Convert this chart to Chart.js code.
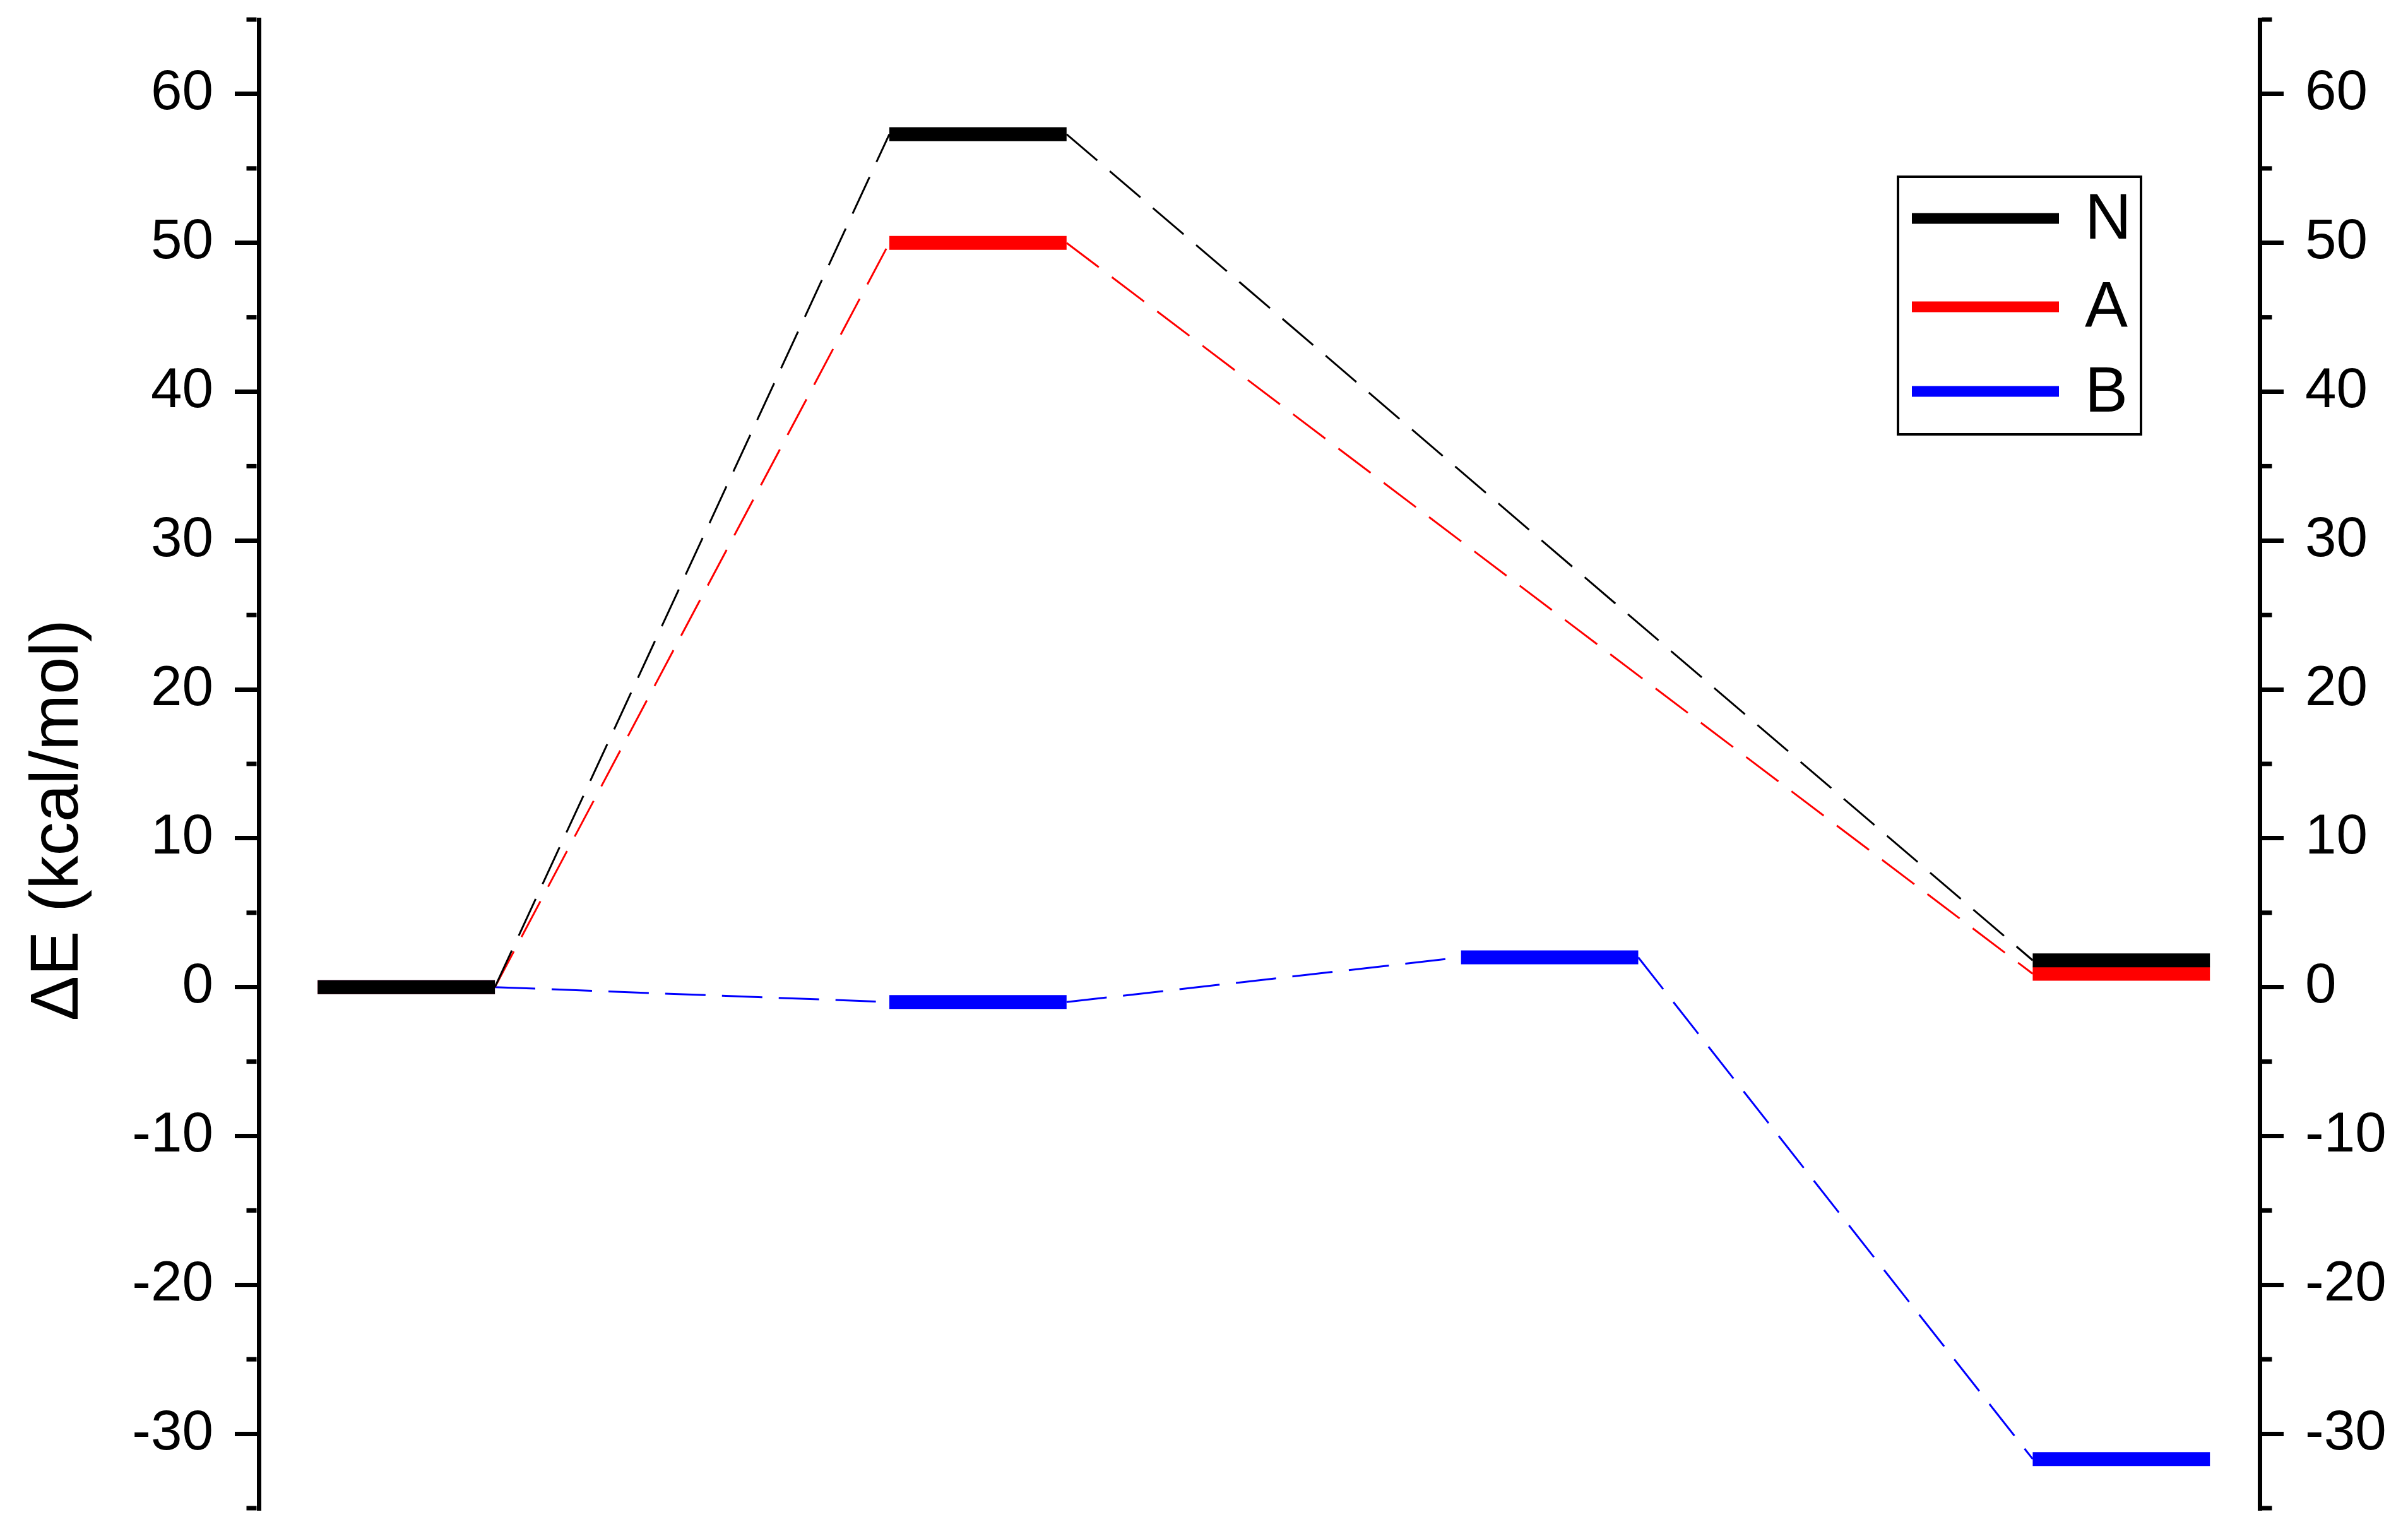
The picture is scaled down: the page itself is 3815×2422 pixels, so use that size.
<!DOCTYPE html>
<html>
<head>
<meta charset="utf-8">
<title>Energy profile</title>
<script src="https://cdn.jsdelivr.net/npm/chart.js@4.4.1/dist/chart.umd.min.js"></script>
<style>
  html, body { margin: 0; padding: 0; background: #fff; }
  #wrap { width: 3815px; height: 2422px; }
</style>
</head>
<body>
<div id="wrap"><canvas id="profile"></canvas></div>
<script>
// reaction coordinate: one slot per stationary point
const stages = [0, 1, 2, 3];
const seriesNames = ['N', 'A', 'B'];
const seriesColors = ['#000000', '#ff0000', '#0000ff'];
// relative energies, kcal/mol (null = no level at that stage)
const energyN = [0, 57.3, null, 1.8];
const energyA = [0, 50.0, null, 0.9];
const energyB = [0, -1.0, 2.0, -31.7];
const yTicks = [-30, -20, -10, 0, 10, 20, 30, 40, 50, 60];
const yMinorTicks = [-35, -25, -15, -5, 5, 15, 25, 35, 45, 55, 65];

const FONT = "'Liberation Sans', Arial, sans-serif";
const levelHalf = 0.155;

// every level becomes a start and an end point; even segments are the
// levels themselves, odd segments are the dashed connectors between them
function levelPoints(energies) {
    const pts = [];
    energies.forEach((e, i) => {
        if (e === null) return;
        pts.push({ x: stages[i] - levelHalf, y: e });
        pts.push({ x: stages[i] + levelHalf, y: e });
    });
    return pts;
}

const allEnergies = [energyN, energyA, energyB];

const datasets = seriesNames.map((name, i) => ({
    label: name,
    data: levelPoints(allEnergies[i]),
    borderColor: seriesColors[i],
    backgroundColor: seriesColors[i],
    borderWidth: 3,
    pointRadius: 0,
    pointHoverRadius: 0,
    fill: false,
    tension: 0,
    segment: {
        borderWidth: ctx => (ctx.p0DataIndex % 2 === 0 ? 22 : 3),
        borderDash: ctx => (ctx.p0DataIndex % 2 === 0 ? [] : [64, 26])
    }
}));

function yAxis(position, width) {
    return {
        type: 'linear',
        position: position,
        min: -35,
        max: 65,
        afterBuildTicks: scale => {
            scale.ticks = yTicks.map(v => ({ value: v }));
        },
        afterFit: scale => {
            scale.width = width;
            scale.paddingTop = 0;
            scale.paddingBottom = 0;
        },
        border: { display: true, color: '#000', width: 7 },
        grid: {
            drawOnChartArea: false,
            drawTicks: true,
            tickLength: 38,
            tickWidth: 7,
            tickColor: '#000',
            lineWidth: 7
        },
        ticks: {
            color: '#000',
            padding: 34,
            font: { family: FONT, size: 89 },
            callback: v => String(v)
        }
    };
}

const leftAxis = yAxis('left', 410);
leftAxis.title = {
    display: true,
    text: 'ΔE (kcal/mol)      ',
    color: '#000',
    padding: 0,
    font: { family: FONT, size: 107, lineHeight: 1.75 }
};
const rightAxis = yAxis('right', 235);

// minor ticks and the framed legend, Origin style
const originExtras = {
    id: 'originExtras',
    afterDraw(chart) {
        const ctx = chart.ctx;
        ctx.save();
        ctx.strokeStyle = '#000';
        ctx.lineWidth = 7;
        ['y', 'y2'].forEach(id => {
            const s = chart.scales[id];
            const left = s.position === 'left';
            const x0 = left ? s.right - 3.5 : s.left + 3.5;
            yMinorTicks.forEach(v => {
                const py = s.getPixelForValue(v);
                ctx.beginPath();
                ctx.moveTo(x0, py);
                ctx.lineTo(x0 + (left ? -16 : 16), py);
                ctx.stroke();
            });
        });

        // legend box
        ctx.lineWidth = 4;
        ctx.strokeRect(3007, 280, 385, 408);
        const rows = [346, 486, 620];
        ctx.font = '102px ' + FONT;
        ctx.textBaseline = 'middle';
        ctx.textAlign = 'left';
        chart.data.datasets.forEach((ds, i) => {
            ctx.strokeStyle = ds.borderColor;
            ctx.lineWidth = 17;
            ctx.beginPath();
            ctx.moveTo(3029, rows[i]);
            ctx.lineTo(3262, rows[i]);
            ctx.stroke();
            ctx.fillStyle = '#000';
            ctx.fillText(ds.label, 3303, rows[i] + 4);
        });
        ctx.restore();
    }
};

new Chart(document.getElementById('profile'), {
    type: 'line',
    data: { datasets: datasets },
    options: {
        responsive: true,
        maintainAspectRatio: false,
        animation: false,
        devicePixelRatio: 1,
        layout: { padding: { top: 31, bottom: 33, left: 0, right: 0 } },
        plugins: {
            legend: { display: false },
            tooltip: { enabled: false }
        },
        scales: {
            x: { type: 'linear', display: false, min: -0.258, max: 3.242 },
            y: leftAxis,
            y2: rightAxis
        }
    },
    plugins: [originExtras]
});
</script>
</body>
</html>
